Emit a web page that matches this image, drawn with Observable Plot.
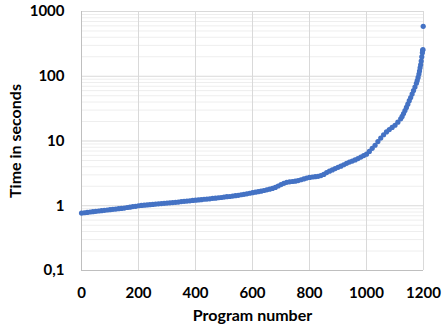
<!DOCTYPE html>
<html><head><meta charset="utf-8">
<script src="https://cdn.jsdelivr.net/npm/d3@7"></script>
<script src="https://cdn.jsdelivr.net/npm/@observablehq/plot@0.6"></script>
<style>
body{margin:0;background:#fff}
g[aria-label="x-axis label"] text, g[aria-label="y-axis label"] text {font-size:16px}
</style>
</head><body><div id="chart"></div>
<script>
const programs = [
  0,10,20,30,40,50,60,70,80,90,100,110,120,130,140,150,160,170,180,190,
  200,210,220,230,240,250,260,270,280,290,300,310,320,330,340,350,360,370,380,390,
  400,410,420,430,440,450,460,470,480,490,500,510,520,530,540,550,560,570,580,590,
  600,610,620,630,640,650,660,670,680,690,700,710,720,730,740,750,760,770,780,790,
  800,810,820,830,840,850,860,870,880,890,900,910,920,930,940,950,960,970,980,990,
  1000,1010,1020,1030,1040,1050,1060,1070,1080,1090,
  1100,1110,1120,1125,1130,1135,1140,1145,1150,1155,1160,1165,1170,1175,1178,1181,1184,1186,1188,1190,1192,1194,1196,1197,1198,1199
];
const seconds = [
  0.77,0.78,0.79,0.80,0.81,0.82,0.83,0.84,0.85,0.86,0.87,0.88,0.89,0.90,0.91,0.92,0.94,0.95,0.97,0.98,
  1.00,1.01,1.02,1.03,1.04,1.05,1.06,1.07,1.08,1.09,1.10,1.11,1.12,1.13,1.14,1.16,1.17,1.18,1.19,1.21,
  1.22,1.23,1.24,1.26,1.27,1.28,1.30,1.31,1.33,1.34,1.36,1.38,1.39,1.41,1.43,1.45,1.48,1.50,1.53,1.56,
  1.59,1.62,1.65,1.68,1.72,1.76,1.80,1.85,1.92,2.02,2.12,2.22,2.30,2.34,2.37,2.40,2.45,2.52,2.60,2.68,
  2.74,2.78,2.81,2.85,2.92,3.05,3.25,3.42,3.58,3.75,3.92,4.08,4.30,4.52,4.72,4.90,5.10,5.35,5.65,5.95,
  6.25,6.9,7.7,8.6,9.8,11.1,12.5,13.8,15.0,16.2,
  17.5,19.5,22,24,26.5,29.5,33,37,42,47,53,60,68,78,86,96,108,120,135,150,172,200,230,252,258,590
];
const xTicks = [0,200,400,600,800,1000,1200];
const yTicks = [0.1,1,10,100,1000];
const yMinorSteps = [2,3,4,5,6,7,8,9];

const data = programs.map((p,i)=>({program:p, time:seconds[i]}));
const yMinor = yTicks.slice(0,-1).flatMap(d => yMinorSteps.map(s => d*s));

const chart = Plot.plot({
  width:447, height:326,
  marginLeft:81, marginRight:24, marginTop:11, marginBottom:56,
  style:{fontFamily:"Lato, 'Open Sans', sans-serif", fontSize:"15px", fontWeight:"bold", color:"#000", background:"#fff"},
  x:{domain:[0,1200]},
  y:{type:"log", domain:[0.1,1000]},
  marks:[
    Plot.ruleY(yMinor, {stroke:"#eeeeee", strokeWidth:1}),
    Plot.ruleY(yTicks, {stroke:"#d9d9d9", strokeWidth:1}),
    Plot.ruleX(xTicks, {stroke:"#d9d9d9", strokeWidth:1}),
    Plot.ruleX([0], {stroke:"#bfbfbf", strokeWidth:1}),
    Plot.ruleY([0.1], {stroke:"#bfbfbf", strokeWidth:1}),
    Plot.axisX({ticks:xTicks, tickSize:0, tickPadding:17, tickFormat:d => String(d), label:"Program number", labelAnchor:"center", labelArrow:"none", labelOffset:50}),
    Plot.axisY({ticks:yTicks, tickSize:0, tickPadding:17, tickFormat:d => String(d).replace(".", ","), label:"Time in seconds", labelAnchor:"center", labelArrow:"none", labelOffset:72}),
    Plot.dot(data, {x:"program", y:"time", r:2.6, fill:"#4472C4"})
  ]
});
document.getElementById("chart").appendChild(chart);
</script>
</body></html>
